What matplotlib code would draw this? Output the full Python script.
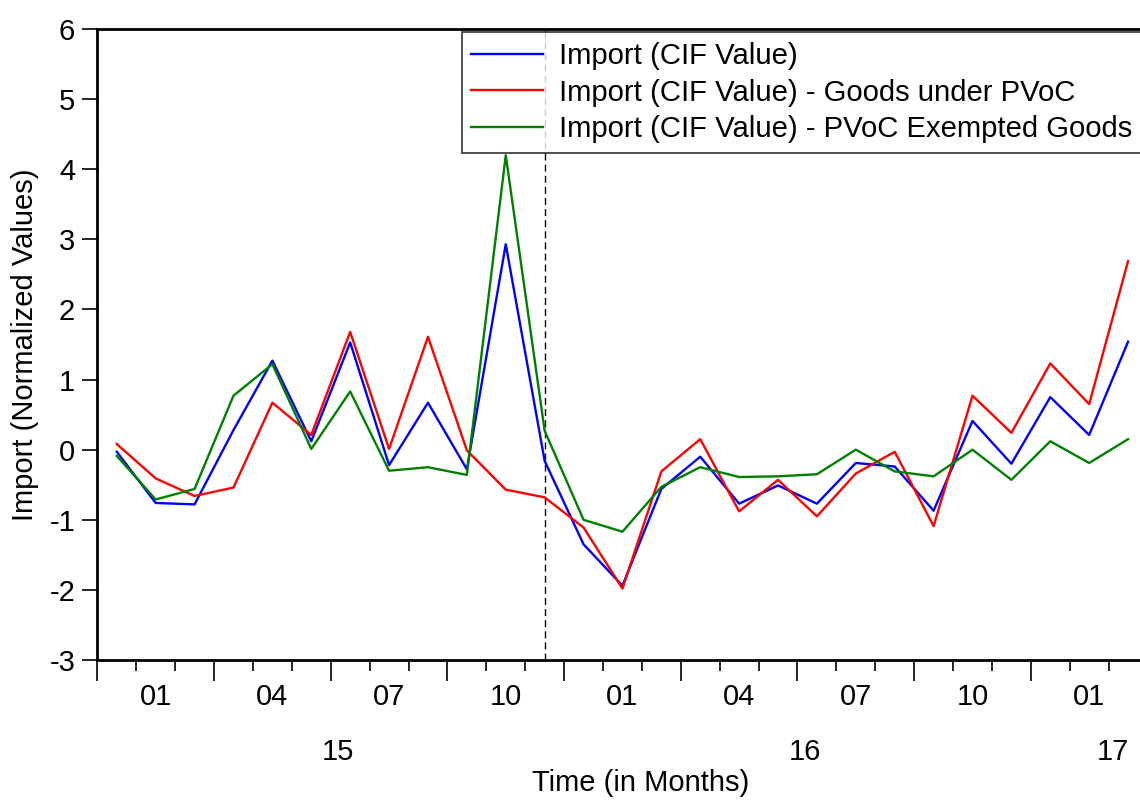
import numpy as np
import matplotlib
matplotlib.use("Agg")
import matplotlib.pyplot as plt

plt.rcParams['font.family'] = ['Liberation Sans', 'DejaVu Sans']
plt.rcParams['axes.unicode_minus'] = False

# monthly observations, Dec 2014 .. Feb 2017
months = ["12", "01", "02", "03", "04", "05", "06", "07", "08", "09", "10", "11",
          "12", "01", "02", "03", "04", "05", "06", "07", "08", "09", "10", "11",
          "12", "01", "02"]
years = ["15", "16", "17"]

import_total = [-0.03, -0.76, -0.78, 0.28, 1.27, 0.12, 1.53, -0.22, 0.67, -0.28, 2.93, -0.16,
                -1.35, -1.94, -0.56, -0.10, -0.77, -0.51, -0.77, -0.19, -0.24, -0.87, 0.41,
                -0.20, 0.75, 0.21, 1.54]
import_pvoc = [0.08, -0.41, -0.66, -0.54, 0.67, 0.21, 1.68, 0.01, 1.61, -0.01, -0.57, -0.68,
               -1.11, -1.98, -0.31, 0.15, -0.88, -0.43, -0.95, -0.34, -0.03, -1.09, 0.77,
               0.24, 1.23, 0.65, 2.69]
import_exempt = [-0.09, -0.71, -0.56, 0.77, 1.22, 0.01, 0.83, -0.30, -0.25, -0.36, 4.20, 0.27,
                 -1.00, -1.17, -0.53, -0.25, -0.39, -0.38, -0.35, 0.00, -0.31, -0.38, 0.00,
                 -0.43, 0.12, -0.19, 0.15]

labels = ["Import (CIF Value)",
          "Import (CIF Value) - Goods under PVoC",
          "Import (CIF Value) - PVoC Exempted Goods"]

break_month = 11          # Nov 2015
year_pos = [5.69, 17.69, 25.6]

x = np.arange(len(months))
fs = 21

fig = plt.figure(figsize=(11.4, 8.01), dpi=100)
ax = fig.add_axes([0.0854, 0.176, 0.9212, 0.7878])

ax.plot(x, import_total, color="#0000ff", lw=1.7, label=labels[0])
ax.plot(x, import_pvoc, color="#ff0000", lw=1.7, label=labels[1])
ax.plot(x, import_exempt, color="#008000", lw=1.7, label=labels[2])
ax.axvline(break_month, color="black", lw=1.0, ls=(0, (5, 3)), zorder=0)

ax.set_xlim(-0.5, len(months) - 0.5)
ax.set_ylim(-3, 6)
ax.set_yticks(range(-3, 7))
ax.tick_params(axis="y", direction="out", length=11, width=1.2, labelsize=fs, pad=5)

# month boundaries: long tick every quarter, short otherwise
bounds = np.arange(len(months) + 1) - 0.5
ax.set_xticks(bounds[::3])
ax.set_xticks(bounds, minor=True)
ax.set_xticklabels([])
ax.tick_params(axis="x", which="major", direction="out", length=15, width=1.2)
ax.tick_params(axis="x", which="minor", direction="out", length=8, width=1.2)

for i in range(1, len(months), 3):
    ax.text(i, -0.058, months[i], transform=ax.get_xaxis_transform(),
            ha="center", va="center", fontsize=fs)
for p, yr in zip(year_pos, years):
    ax.text(p, -0.146, yr, transform=ax.get_xaxis_transform(),
            ha="center", va="center", fontsize=fs)

fig.text(641 / 1140, 1 - 783 / 801, "Time (in Months)", ha="center", va="center", fontsize=fs)
ax.set_ylabel("Import (Normalized Values)", fontsize=fs)
ax.yaxis.set_label_coords(-0.056, 0.5)

for s in ax.spines.values():
    s.set_linewidth(2)

leg = ax.legend(loc="upper left", bbox_to_anchor=(0.347, 0.995), fontsize=21.1,
                frameon=True, fancybox=False, handlelength=2.45, handletextpad=0.55,
                labelspacing=0.3, borderpad=0.33, borderaxespad=0)
leg.get_frame().set_edgecolor("black")
leg.get_frame().set_linewidth(1.2)

fig.savefig("out.png", dpi=100)
